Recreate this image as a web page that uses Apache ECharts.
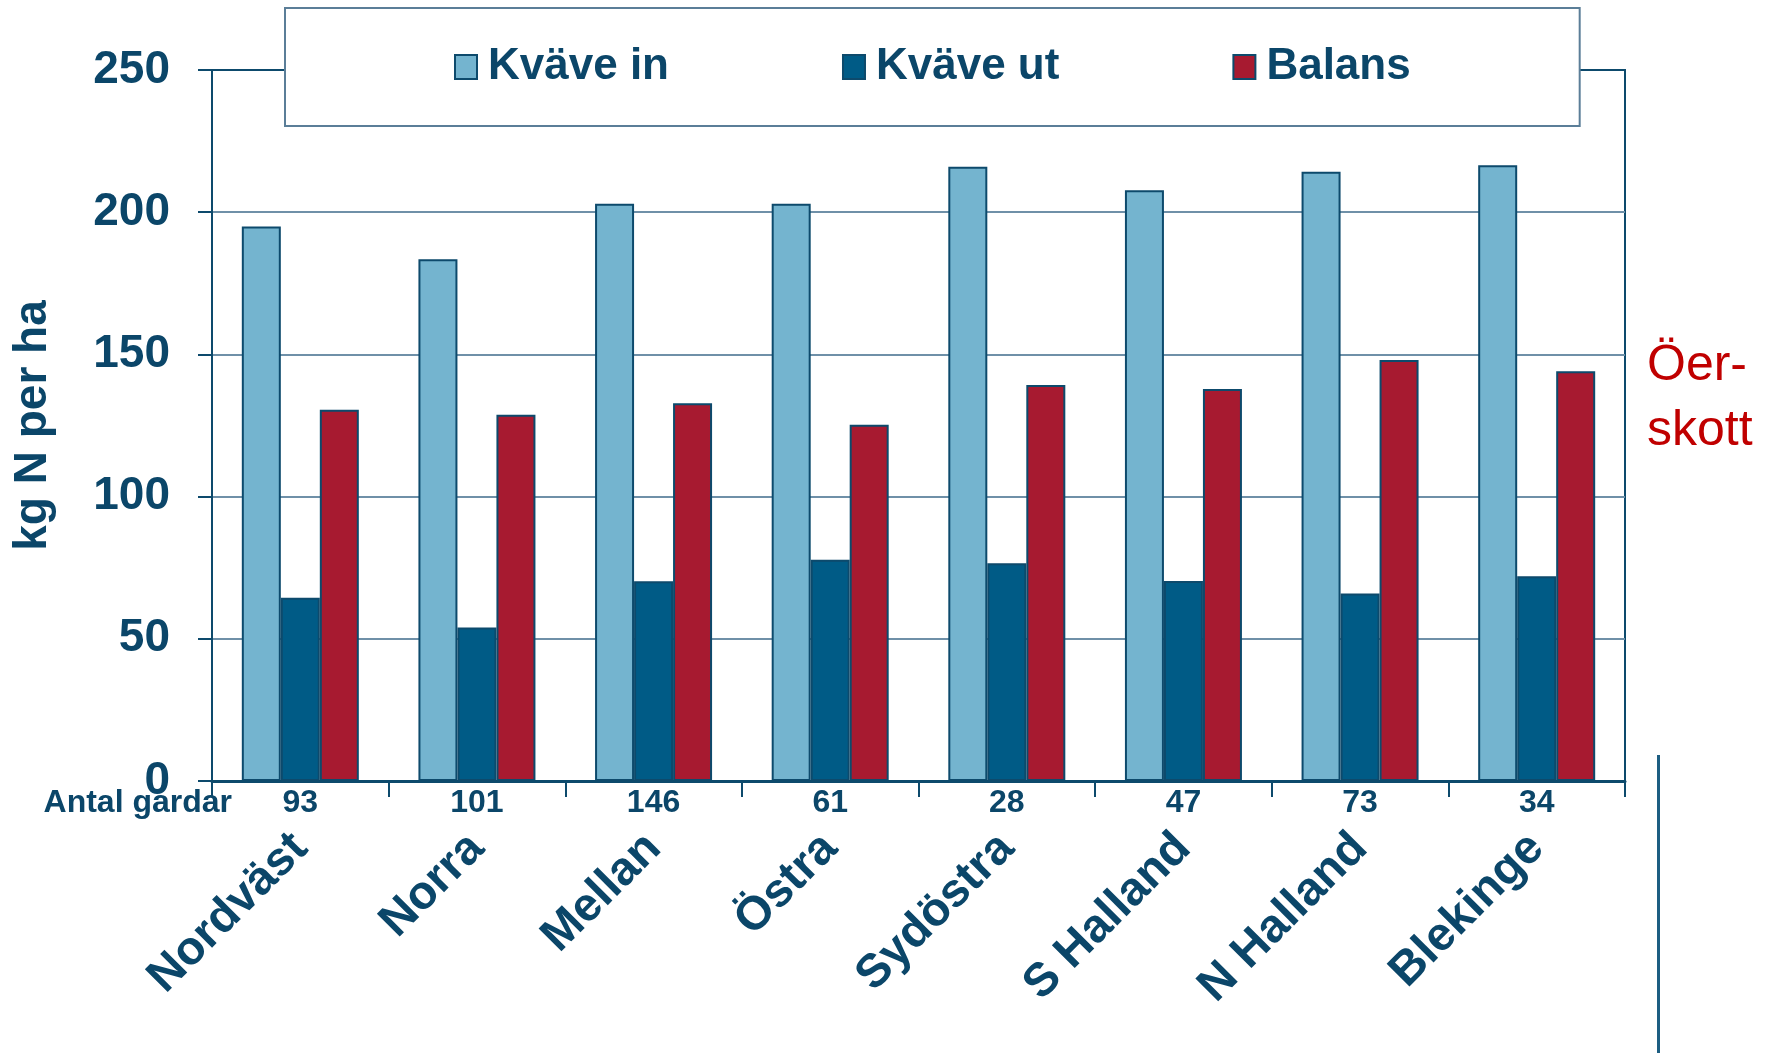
<!DOCTYPE html>
<html>
<head>
<meta charset="utf-8">
<style>
  html, body { margin: 0; padding: 0; background: #ffffff; }
  #chart { width: 1766px; height: 1053px; }
</style>
<script src="https://cdn.jsdelivr.net/npm/echarts@6/dist/echarts.min.js"></script>
</head>
<body>
<div id="chart"></div>
<script>
// regions and number of farms per region
var regions = ["Nordväst", "Norra", "Mellan", "Östra", "Sydöstra", "S Halland", "N Halland", "Blekinge"];
var farmCounts = [93, 101, 146, 61, 28, 47, 73, 34];

// kg N per ha
var kvaveIn  = [195, 183.5, 203, 203, 216, 207.7, 214.2, 216.5];
var kvaveUt  = [64.4, 54, 70.2, 77.8, 76.6, 70.3, 65.9, 72];
var balans   = [130.5, 128.8, 132.8, 125.3, 139.2, 137.8, 148, 144.1];

var ink = "#0B4669", frame = "#0D4A6C", grid = "#6F90A8";
var font = '"Liberation Sans", Arial, sans-serif';

var chart = echarts.init(document.getElementById("chart"), null, { renderer: "canvas" });

function barSeries(name, data, color) {
  return {
    name: name, type: "bar", data: data,
    xAxisIndex: 0, barWidth: 39, barGap: "0%",
    itemStyle: { color: color, borderColor: frame, borderWidth: 2 }
  };
}

chart.setOption({
  backgroundColor: "#ffffff",
  textStyle: { fontFamily: font },
  animation: false,
  grid: {
    left: 212, right: 141, top: 70, bottom: 272,
    outerBoundsMode: "none", containLabel: false,
    show: true, borderColor: frame, borderWidth: 2, backgroundColor: "transparent"
  },
  legend: {
    data: ["Kväve in", "Kväve ut", "Balans"],
    left: 285, top: 8,
    padding: [37, 169, 37, 169],
    icon: "rect",
    itemGap: 173, itemWidth: 22, itemHeight: 24,
    backgroundColor: "#ffffff", borderColor: "#5B7E98", borderWidth: 2,
    textStyle: { fontFamily: font, fontSize: 44, fontWeight: "bold", color: ink, padding: [0, 0, 0, 6] }
  },
  xAxis: [
    {
      type: "category", data: regions, position: "bottom",
      name: "Antal gardar", nameLocation: "start", nameGap: -20, nameMoveOverlap: false,
      nameTextStyle: { fontFamily: font, fontSize: 32, fontWeight: "bold", color: ink,
                       verticalAlign: "top", padding: [6, 0, 0, 0] },
      axisLine: { lineStyle: { color: frame, width: 3 } },
      axisTick: { show: true, interval: 0, length: 16, lineStyle: { color: frame, width: 2 } },
      axisLabel: {
        interval: 0, margin: 6, fontFamily: font, fontSize: 32, fontWeight: "bold", color: ink,
        formatter: function (v, i) { return String(farmCounts[i]); }
      },
      splitLine: { show: false }
    },
    {
      type: "category", data: regions, position: "bottom",
      axisLine: { show: false }, axisTick: { show: false }, splitLine: { show: false },
      axisLabel: { interval: 0, rotate: 45, margin: 60, fontFamily: font, fontSize: 47, fontWeight: "bold", color: ink }
    }
  ],
  yAxis: {
    type: "value", min: 0, max: 250, interval: 50,
    name: "kg N per ha", nameLocation: "middle", nameGap: 156,
    nameTextStyle: { fontFamily: font, fontSize: 46, fontWeight: "bold", color: ink },
    axisLine: { show: true, lineStyle: { color: frame, width: 2 } },
    axisTick: { show: true, length: 14, lineStyle: { color: frame, width: 2 } },
    axisLabel: { margin: 42, fontFamily: font, fontSize: 46, fontWeight: "bold", color: ink },
    splitLine: { show: true, showMinLine: false, showMaxLine: false, lineStyle: { color: grid, width: 2 } }
  },
  series: [
    barSeries("Kväve in", kvaveIn, "#74B4CF"),
    barSeries("Kväve ut", kvaveUt, "#005B86"),
    barSeries("Balans", balans, "#A71A30")
  ],
  graphic: [
    { type: "text", left: 1647, top: 334, z: 10,
      style: { text: "Öer-\nskott", fill: "#C00000", fontFamily: font, fontSize: 50, lineHeight: 65 } },
    { type: "line", z: 10, shape: { x1: 1658.5, y1: 755, x2: 1658.5, y2: 1053 },
      style: { stroke: "#1D5E82", lineWidth: 3 } }
  ]
});
</script>
</body>
</html>
